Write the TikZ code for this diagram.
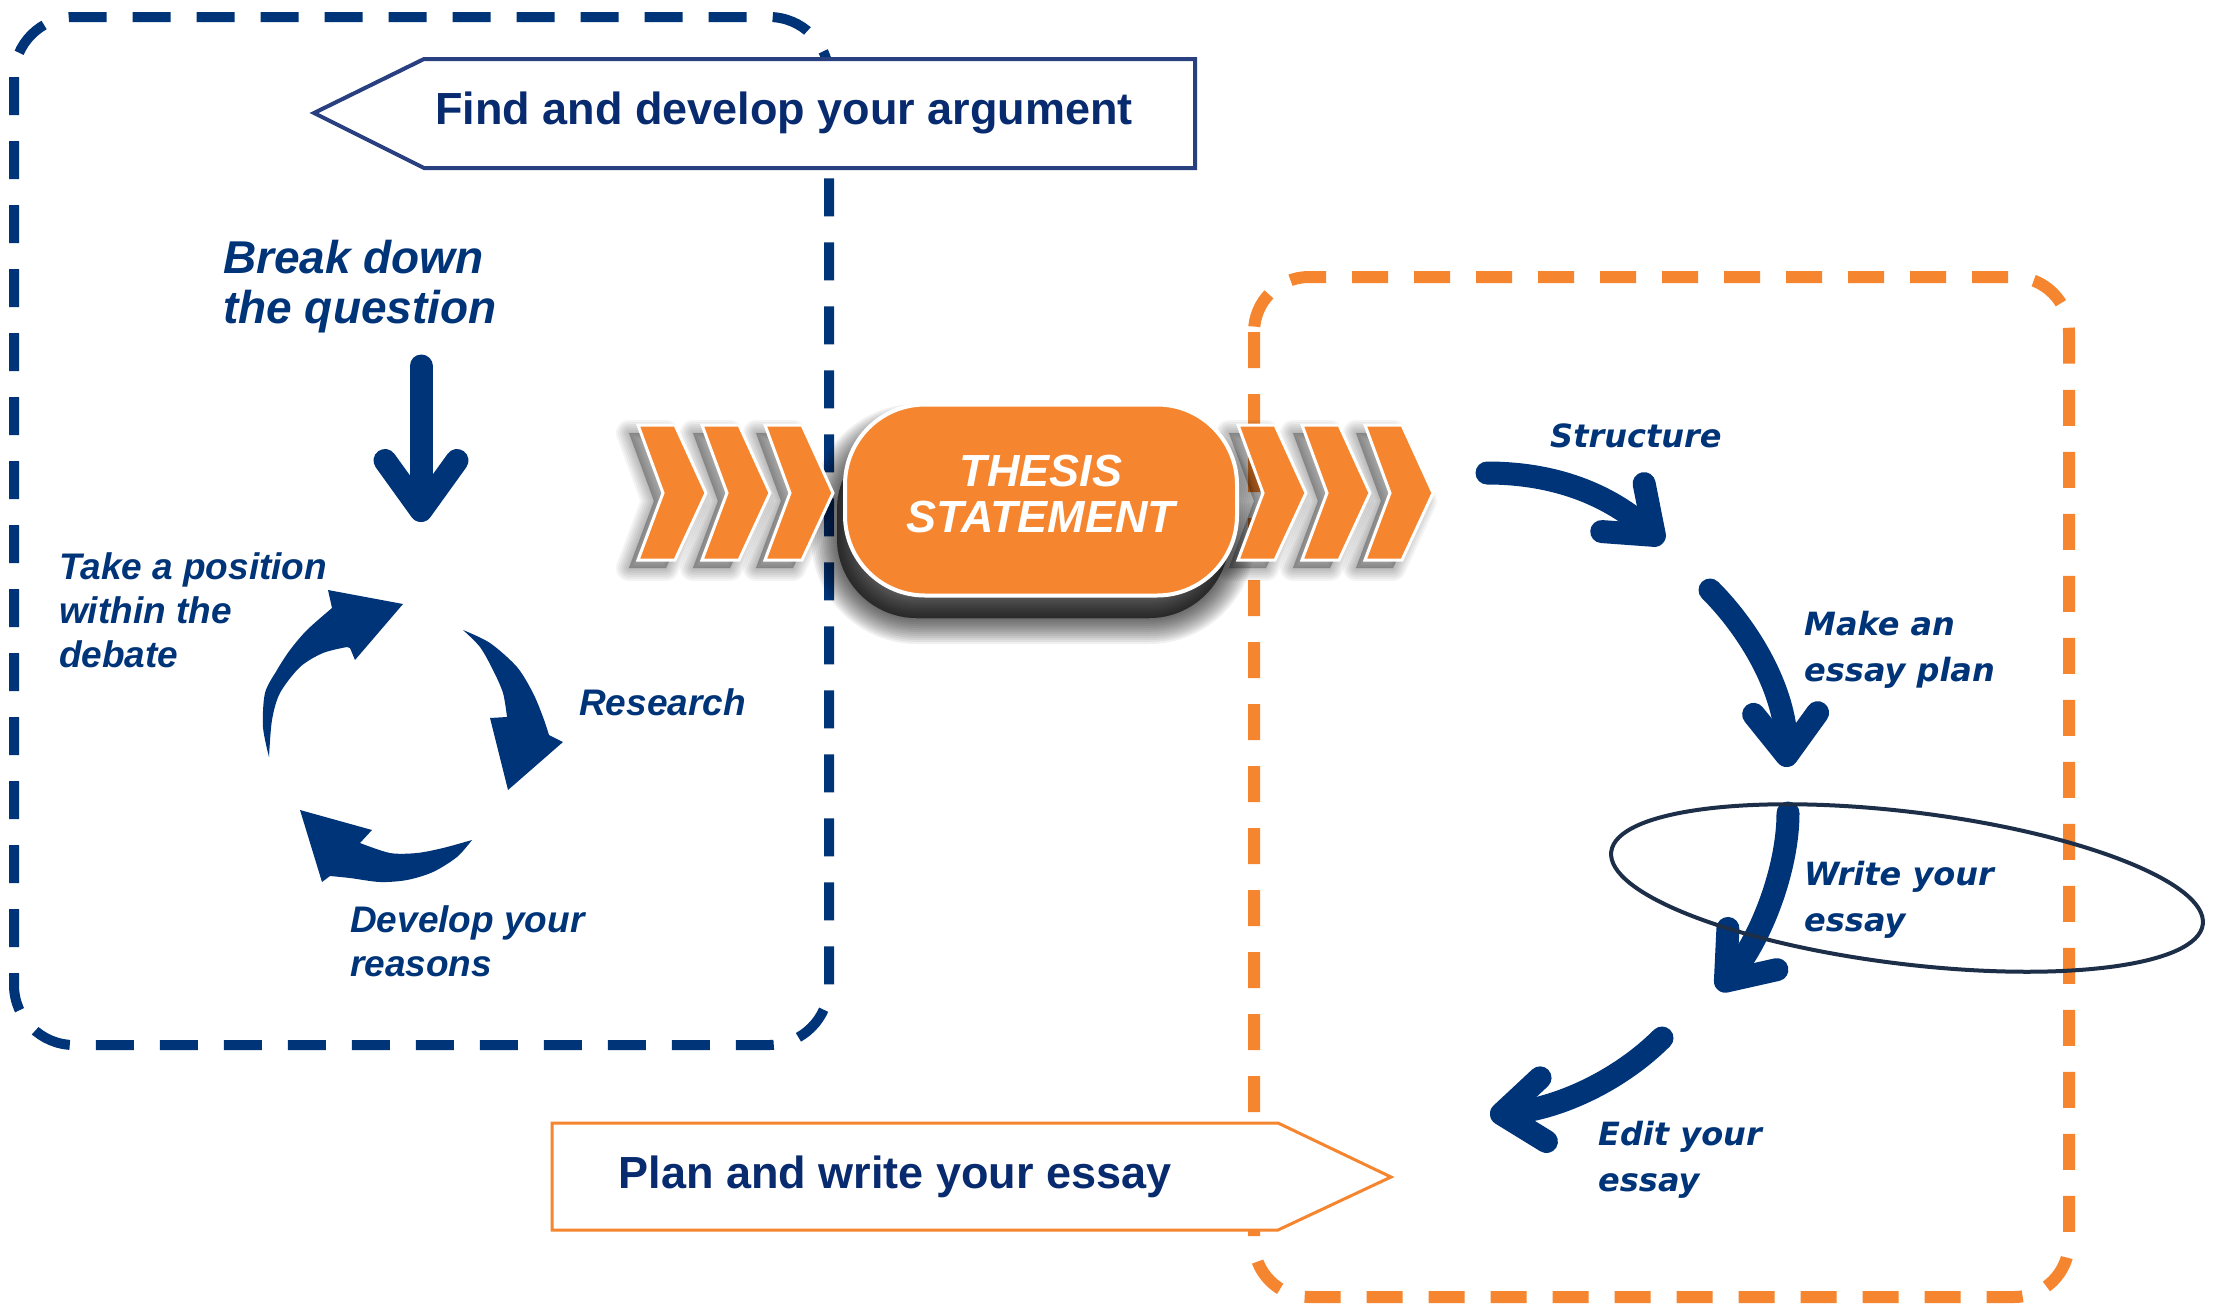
\documentclass[tikz,border=0pt]{standalone}
\usepackage{fontspec}
\setmainfont{Liberation Sans}
\newfontfamily\dvfont{DejaVu Sans}[ItalicFont={DejaVu Sans Oblique},BoldFont={DejaVu Sans Bold},BoldItalicFont={DejaVu Sans Bold Oblique}]
\usetikzlibrary{arrows.meta,shapes.geometric}
\definecolor{navy}{RGB}{0,52,120}
\definecolor{orng}{RGB}{245,133,46}
\definecolor{bandblue}{RGB}{40,64,128}
\definecolor{ellc}{RGB}{28,46,72}
\definecolor{txtblue}{RGB}{8,42,110}
\begin{document}
\begin{tikzpicture}[x=1pt,y=-1pt,
  lefttxt/.style={text=navy, font=\fontsize{37}{44}\selectfont\bfseries\itshape, align=left, inner sep=0pt, anchor=west},
  righttxt/.style={text=navy, font=\dvfont\fontsize{32}{46}\selectfont\bfseries\itshape, align=left, inner sep=0pt, anchor=west},
  bannertxt/.style={text=txtblue, font=\fontsize{45}{50}\selectfont\bfseries, inner sep=0pt},
  flowarrow/.style={draw=navy, line width=23pt, line cap=round, -{Straight Barb[round,length=42pt,width=64pt]}},
  chev/.pic={\path[pic actions] (0,0) -- (37,0) -- (68,68) -- (37,135) -- (0,135) -- (25,68) -- cycle;},
  chevfill/.style={fill=orng, draw=white, line width=3pt, line join=miter},
  chevshadow/.style={fill=black, draw=black, opacity=0.045, line join=round},
  cyc/.style={fill=navy}
]
\useasboundingbox[fill=white] (0,0) rectangle (2215,1312);

% dashed frames
\draw[navy, line width=10pt, dash pattern=on 38pt off 26pt, rounded corners=60pt] (14,17) rectangle (829,1045);
\draw[orng, line width=12pt, dash pattern=on 36pt off 26pt, rounded corners=55pt] (1254,277) rectangle (2069,1297);

% banners
\filldraw[fill=white, draw=bandblue, line width=4pt] (314,113) -- (424,59) -- (1195,59) -- (1195,168) -- (424,168) -- cycle;
\node[bannertxt] (findarg) at (784,113) {Find and develop your argument};
\filldraw[fill=white, draw=orng, line width=3pt] (552,1123) -- (1278,1123) -- (1391,1177) -- (1278,1230) -- (552,1230) -- cycle;
\node[bannertxt] (planwrite) at (895,1177) {Plan and write your essay};

% soft shadows
\foreach \w in {52,48,...,0}
  \filldraw[black, opacity=0.06, line width=\w pt, rounded corners=80pt] (837,430) rectangle (1229,618);
\foreach \xx in {638,702,765,1238,1302,1365}
  \foreach \w in {26,22,...,0}
    \pic[chevshadow, line width=\w pt] at (\xx-9,433) {chev};

% thesis statement
\node[fill=orng, draw=white, line width=4pt, rounded corners=80pt, minimum width=392pt, minimum height=191pt,
      text=white, font=\fontsize{45}{46}\selectfont\bfseries\itshape, align=center, inner sep=0pt] (thesis) at (1041,500) {};
\node[text=white, font=\fontsize{45}{46}\selectfont\bfseries\itshape, align=center, inner sep=0pt] (thesistxt) at (1041,494) {THESIS\\STATEMENT};

% chevrons
\foreach \xx in {638,702,765,1238,1302,1365}
  \pic[chevfill] at (\xx,425) {chev};

% left texts
\node[lefttxt, font=\fontsize{46}{50}\selectfont\bfseries\itshape] (breakq) at (223,287) {Break down\\the question};
\node[lefttxt] (takepos) at (59,610) {Take a position\\within the\\debate};
\node[lefttxt] (research) at (579,702) {Research};
\node[lefttxt] (devres) at (350,941) {Develop your\\reasons};

% down arrow
\coordinate (dtop) at (421,366);
\coordinate (dtip) at (421,522);
\draw[flowarrow, -{Straight Barb[round,length=50pt,width=72pt]}] (dtop) -- (dtip);

% cycle arrows
\fill[cyc] plot[smooth] coordinates {(269,757) (263,727) (265,693) (277,670) (290,650) (307,630) (332,608)}
  -- (328,590) -- (403,604) -- (355,660) -- (350,648)
  -- plot[smooth] coordinates {(347,647) (323,653) (300,667) (280,693) (272,720) (269,757)} -- cycle;
\fill[cyc] plot[smooth] coordinates {(463,630) (490,643) (517,667) (533,693) (543,717) (549,735)}
  -- (563,742) -- (508,790) -- (490,718) -- (507,717)
  -- plot[smooth] coordinates {(507,717) (503,693) (493,670) (480,647) (463,630)} -- cycle;
\fill[cyc] plot[smooth] coordinates {(472,840) (457,857) (433,872) (407,880) (380,882) (350,878) (330,876)}
  -- (322,882) -- (300,810) -- (372,830) -- (360,843)
  -- plot[smooth] coordinates {(360,843) (390,853) (417,853) (443,848) (472,840)} -- cycle;

% right texts
\node[righttxt] (struct) at (1550,436) {Structure};
\node[righttxt] (plan) at (1804,650) {Make an\\essay plan};
\node[righttxt] (write) at (1804,900) {Write your\\essay};
\node[righttxt] (edit) at (1598,1160) {Edit your\\essay};

% right flow arrows
\coordinate (s1) at (1487,473); \coordinate (s2) at (1663,543);
\coordinate (p1) at (1710,590); \coordinate (p2) at (1787,767);
\coordinate (w1) at (1788,813); \coordinate (w2) at (1718,990);
\coordinate (e1) at (1662,1038); \coordinate (e2) at (1490,1115);
\draw[flowarrow] (s1) .. controls (1570,473) and (1620,505) .. (s2);
\draw[flowarrow] (p1) .. controls (1750,630) and (1785,690) .. (p2);
\draw[flowarrow] (w1) .. controls (1788,870) and (1760,940) .. (w2);
\draw[flowarrow] (e1) .. controls (1620,1080) and (1560,1108) .. (e2);

% highlight ellipse
\node[ellipse, draw=ellc, line width=4pt, minimum width=596pt, minimum height=152pt, rotate=-7, inner sep=0pt] (hl) at (1907,888) {};
\end{tikzpicture}
\end{document}
